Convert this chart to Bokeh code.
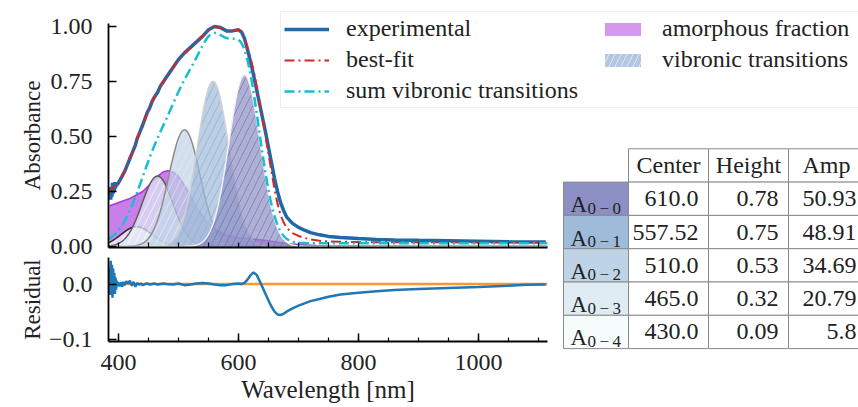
import numpy as np
from bokeh.plotting import figure
from bokeh.models import (Range1d, FixedTicker, NumeralTickFormatter, Legend,
                          LegendItem, Span)
from bokeh.layouts import column, row
from bokeh.embed import file_html
from bokeh.resources import INLINE
from bokeh.core.properties import value

# ---------------------------------------------------------------- data
# measured absorbance spectrum and fit residual (fit - experimental)
wavelength = [385, 386, 387, 388, 389, 390, 391, 392, 393, 394, 395, 396, 397,
              398, 399, 400, 402, 404, 406, 408, 410, 413, 416, 419, 422, 425,
              428, 431, 434, 437, 440, 444, 448, 452, 456, 460, 465, 470, 475,
              480, 490, 500, 510, 520, 530, 540, 550, 560, 570, 580, 590, 600,
              605, 610, 615, 620, 625, 630, 635, 640, 645, 650, 655, 660, 665,
              670, 675, 680, 690, 700, 710, 720, 735, 750, 770, 800, 830, 860,
              900, 950, 1000, 1050, 1080, 1112]
absorbance = [0.215, 0.27, 0.213, 0.25, 0.227, 0.29, 0.24, 0.27, 0.252, 0.293,
              0.265, 0.29, 0.276, 0.289, 0.284, 0.29, 0.30, 0.31, 0.32, 0.33,
              0.34, 0.36, 0.38, 0.40, 0.42, 0.44, 0.46, 0.49, 0.51, 0.53, 0.55,
              0.58, 0.61, 0.63, 0.66, 0.68, 0.70, 0.73, 0.75, 0.77, 0.81, 0.85,
              0.88, 0.905, 0.93, 0.955, 0.985, 1.00, 0.995, 0.98, 0.98, 0.985,
              0.975, 0.945, 0.895, 0.84, 0.78, 0.715, 0.65, 0.585, 0.52, 0.45,
              0.38, 0.31, 0.25, 0.20, 0.165, 0.135, 0.105, 0.087, 0.074, 0.063,
              0.053, 0.046, 0.041, 0.036, 0.032, 0.030, 0.028, 0.026, 0.024,
              0.022, 0.021, 0.020]
residual = [0.03, -0.02, 0.042, 0.01, 0.035, -0.025, 0.028, 0.0, 0.02, -0.018,
            0.012, -0.01, 0.006, -0.004, 0.003, 0.0, -0.004, 0.003, -0.005,
            0.004, -0.002, 0.005, 0.001, 0.006, -0.003, 0.004, -0.005, 0.002,
            -0.001, 0.001, -0.002, 0.0, 0.001, -0.001, 0.0, 0.001, -0.001, 0.0,
            0.001, 0.0, -0.001, 0.001, -0.002, -0.001, 0.001, 0.002, 0.001,
            -0.001, -0.002, -0.002, 0.0, 0.001, 0.0, 0.002, 0.008, 0.016, 0.021,
            0.017, 0.006, -0.006, -0.018, -0.03, -0.041, -0.05, -0.055, -0.056,
            -0.054, -0.05, -0.044, -0.039, -0.035, -0.031, -0.027, -0.023,
            -0.019, -0.016, -0.013, -0.011, -0.009, -0.007, -0.0055, -0.003,
            -0.0015, -0.001]

# amorphous (non-aggregated) contribution
amorph_wl = [385, 400, 420, 440, 455, 465, 475, 482, 490, 498, 506, 515, 530,
             545, 560, 580, 600, 620, 640, 660, 680, 700, 730, 770, 850, 1000,
             1112]
amorph_abs = [0.185, 0.20, 0.22, 0.25, 0.29, 0.32, 0.34, 0.345, 0.34, 0.325,
              0.295, 0.255, 0.18, 0.12, 0.08, 0.05, 0.04, 0.035, 0.03, 0.022,
              0.014, 0.009, 0.005, 0.003, 0.002, 0.001, 0.001]

# vibronic Gaussian transitions A(0-n)
transitions = ["0\u2009\u2212\u20090", "0\u2009\u2212\u20091", "0\u2009\u2212\u20092",
               "0\u2009\u2212\u20093", "0\u2009\u2212\u20094"]
centers = [610.0, 557.52, 510.0, 465.0, 430.0]
heights = [0.78, 0.75, 0.53, 0.32, 0.09]
amps = [50.93, 48.91, 34.69, 20.79, 5.8]
vib_offset = 0.015
table_columns = ["Center", "Height", "Amp"]

# ---------------------------------------------------------------- styling
FONT = "Liberation Serif"
TXT = "#222222"
BLUE = "#1f68aa"
RED = "#d62728"
CYAN = "#17becf"
ORANGE = "#ff8c1a"
PURPLE = "#9400d3"
DASHDOT = "10 4 2 4"
band_fill = ["#8c8fc4", "#9ebcda", "#bfd3e6", "#e0ecf4", "#f7fcfd"]
band_edge = ["#f2f2f2", "#d0d0d0", "#8c8c8c", "#5a5a5a", "#242424"]
band_hatch = ["#6f6da8", "#8ea4c8", "#e6edf6", "#ffffff", "#ffffff"]
X_RANGE = (383.3, 1115.0)

wl = np.array(wavelength, dtype=float)
exp_abs = np.array(absorbance)
res = np.array(residual)
fit = exp_abs + res

grid = np.arange(X_RANGE[0], X_RANGE[1] + 0.5, 0.5)
sigmas = [a / (h * np.sqrt(2 * np.pi)) for a, h in zip(amps, heights)]
bands = [h * np.exp(-(grid - c) ** 2 / (2 * s ** 2))
         for c, h, s in zip(centers, heights, sigmas)]
vib_sum = np.sum(bands, axis=0) + vib_offset


def transparent(p):
    p.grid.visible = False
    p.outline_line_color = None
    p.background_fill_alpha = 0
    p.border_fill_alpha = 0


def style_axes(p):
    transparent(p)
    for ax in p.axis:
        ax.axis_line_color = "black"
        ax.axis_line_width = 1.8
        ax.major_tick_line_color = "black"
        ax.minor_tick_line_color = "black"
        ax.major_tick_line_width = 1.5
        ax.minor_tick_line_width = 1.2
        ax.major_tick_in = 8
        ax.major_tick_out = 0
        ax.minor_tick_in = 4
        ax.minor_tick_out = 0
        ax.major_label_text_font = FONT
        ax.major_label_text_font_size = "24px"
        ax.major_label_text_color = TXT
        ax.axis_label_text_font = FONT
        ax.axis_label_text_font_size = "23px"
        ax.axis_label_text_font_style = "normal"
        ax.axis_label_text_color = TXT


tick_minor = list(range(400, 1101, 50))

# ---------------------------------------------------------------- absorbance panel
main = figure(width=560, height=262, x_range=Range1d(*X_RANGE),
              y_range=Range1d(-0.0045, 1.0136), output_backend="svg",
              toolbar_location=None, min_border_left=108, min_border_right=13,
              min_border_top=23, min_border_bottom=15)
style_axes(main)
# shared wavelength axis: unlabelled ticks only on the upper panel
main.xaxis.ticker = FixedTicker(ticks=[], minor_ticks=tick_minor)
main.xaxis.minor_tick_in = 5
main.yaxis.ticker = FixedTicker(ticks=[0, 0.25, 0.5, 0.75, 1.0])
main.yaxis.formatter = NumeralTickFormatter(format="0.00")
main.yaxis.minor_tick_in = 0
main.yaxis.major_label_standoff = 16
main.yaxis.axis_label = "Absorbance"
main.yaxis.axis_label_standoff = 3

main.varea(x=amorph_wl, y1=0, y2=amorph_abs, fill_color=PURPLE, fill_alpha=0.5)
main.line(amorph_wl, amorph_abs, line_color=PURPLE, line_width=1.5,
          line_alpha=0.7)
for k in reversed(range(len(centers))):
    main.varea(x=grid, y1=0, y2=bands[k], fill_color=band_fill[k],
               fill_alpha=0.7, hatch_pattern="/", hatch_color=band_hatch[k],
               hatch_alpha=0.6, hatch_scale=14, hatch_weight=1)
    main.line(grid, bands[k], line_color=band_edge[k], line_width=1.5)

main.line(wl, exp_abs, line_color=BLUE, line_width=3.5)
main.line(wl, fit, line_color=RED, line_width=2, line_dash=DASHDOT)
main.line(grid, vib_sum, line_color=CYAN, line_width=2.5, line_dash=DASHDOT)

# ---------------------------------------------------------------- residual panel
resid = figure(width=560, height=151, x_range=main.x_range,
               y_range=Range1d(-0.104, 0.048), output_backend="svg",
               toolbar_location=None, min_border_left=108, min_border_right=13,
               min_border_top=1, min_border_bottom=66, margin=(-6, 0, 0, 0))
style_axes(resid)
resid.xaxis.ticker = FixedTicker(ticks=[400, 600, 800, 1000],
                                 minor_ticks=tick_minor)
resid.xaxis.major_label_standoff = 13
resid.xaxis.axis_label = "Wavelength [nm]"
resid.xaxis.axis_label_text_font_size = "25px"
resid.xaxis.axis_label_standoff = 3
resid.yaxis.ticker = FixedTicker(ticks=[-0.1, 0.0])
resid.yaxis.major_label_overrides = {-0.1: "\u22120.1", 0: "0.0"}
resid.yaxis.major_label_standoff = 16
resid.yaxis.axis_label = "Residual"
resid.yaxis.axis_label_standoff = 1

resid.add_layout(Span(location=0, dimension="width", line_color=ORANGE,
                      line_width=2.5, line_alpha=0.9, level="underlay"))
resid.line(wl, res, line_color="#1f77b4", line_width=2.5)

# ---------------------------------------------------------------- parameter table
col_edges = [3, 68, 148, 228, 308]
row_top = 148.3
row_h = 33.3
n = len(centers)

tab = figure(width=298, height=407, x_range=Range1d(0, 298),
             y_range=Range1d(407, 0), min_border=0,
             x_axis_location=None, y_axis_location=None,
             output_backend="svg", toolbar_location=None)
transparent(tab)

cl, cr, ct, cb = [], [], [], []
for r in range(n + 1):
    for c in range(1, 4):
        cl.append(col_edges[c]); cr.append(col_edges[c + 1])
        ct.append(row_top + r * row_h); cb.append(row_top + (r + 1) * row_h)
tab.quad(left=cl, right=cr, top=ct, bottom=cb, fill_color="white",
         line_color="#8a8a8a", line_width=1)
tab.quad(left=[col_edges[0]] * n, right=[col_edges[1]] * n,
         top=[row_top + (i + 1) * row_h for i in range(n)],
         bottom=[row_top + (i + 2) * row_h for i in range(n)],
         fill_color=band_fill, line_color="#8a8a8a", line_width=1)

hx = [(col_edges[1] + col_edges[2]) / 2, (col_edges[2] + col_edges[3]) / 2,
      col_edges[3] + 38]
tab.text(x=hx, y=[row_top + row_h / 2] * 3, text=table_columns,
         text_font=value(FONT), text_font_size="24px", text_color=TXT,
         text_align="center", text_baseline="middle")

vals = [centers, heights, amps]
pads = [10, 10, 12]
tx, ty, tt = [], [], []
for c in range(3):
    for i in range(n):
        tx.append(col_edges[c + 2] - pads[c])
        ty.append(row_top + (i + 1.5) * row_h)
        tt.append(str(vals[c][i]))
tab.text(x=tx, y=ty, text=tt, text_font=value(FONT), text_font_size="24px",
         text_color=TXT, text_align="right", text_baseline="middle")

ay = [row_top + (i + 1.5) * row_h + 6 for i in range(n)]
tab.text(x=[col_edges[0] + 7] * n, y=ay, text=["A"] * n, text_font=value(FONT),
         text_font_size="23px", text_color=TXT, text_align="left",
         text_baseline="alphabetic")
tab.text(x=[col_edges[0] + 24] * n, y=[v + 3.5 for v in ay], text=transitions,
         text_font=value(FONT), text_font_size="17px", text_color=TXT,
         text_align="left", text_baseline="alphabetic")

# ---------------------------------------------------------------- legend (overlay)
# legend panel laid over the top of the figure; its proxy renderers reuse the
# plotted series but sit outside this panel's visible range
leg = figure(width=582, height=100, x_range=Range1d(0, 1), y_range=Range1d(0, 1),
             min_border=0, x_axis_location=None, y_axis_location=None,
             margin=(-398, 0, 298, 276), output_backend="svg",
             toolbar_location=None)
transparent(leg)
k_exp = leg.line(wl, exp_abs, line_color=BLUE, line_width=3.5)
k_fit = leg.line(wl, fit, line_color=RED, line_width=2, line_dash=DASHDOT)
k_sum = leg.line(grid, vib_sum, line_color=CYAN, line_width=2.5,
                 line_dash=DASHDOT)
k_am = leg.varea(x=amorph_wl, y1=0, y2=amorph_abs, fill_color=PURPLE,
                 fill_alpha=0.4)
k_vib = leg.varea(x=grid, y1=0, y2=bands[1], fill_color="#b4c7e0",
                  fill_alpha=1.0, hatch_pattern="/", hatch_color="#e8eef7",
                  hatch_alpha=0.8, hatch_scale=12, hatch_weight=1)
legend = Legend(items=[LegendItem(label="experimental", renderers=[k_exp]),
                       LegendItem(label="best-fit", renderers=[k_fit]),
                       LegendItem(label="sum vibronic transitions", renderers=[k_sum]),
                       LegendItem(label="amorphous fraction", renderers=[k_am]),
                       LegendItem(label="vibronic transitions", renderers=[k_vib])],
                location=(4, 1), nrows=3,
                label_text_font=FONT, label_text_font_size="24px",
                label_text_color=TXT, glyph_width=45, glyph_height=16,
                label_height=26, label_width=250, label_standoff=17,
                spacing=4, padding=3, margin=0, border_line_color="#dddddd",
                border_line_width=1, background_fill_alpha=0.85)
leg.add_layout(legend)

layout = column(row(column(main, resid), tab), leg)
open("out.html", "w").write(file_html(layout, INLINE))
